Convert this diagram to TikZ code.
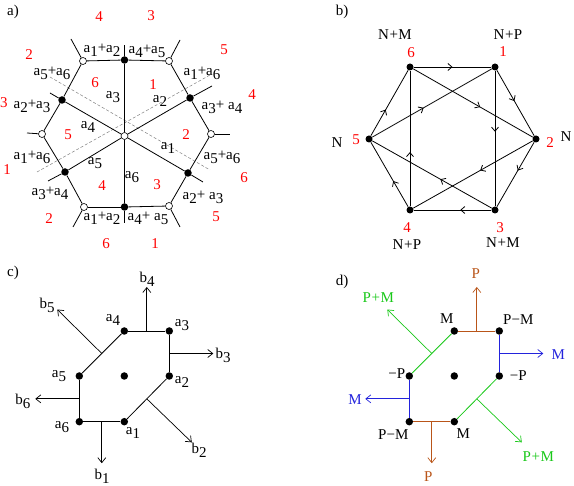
\documentclass[tikz,border=0pt]{standalone}
\usepackage{fontspec}
\setmainfont{Liberation Serif}
\usetikzlibrary{arrows.meta,decorations.markings,calc}
\definecolor{pbrown}{RGB}{185,85,25}
\definecolor{pgreen}{RGB}{25,200,25}
\definecolor{pblue}{RGB}{35,35,220}
\newcommand\subd[1]{\raisebox{-0.55ex}{#1}}
\newcommand\pl{\kern0.5pt+\kern0.5pt}
\tikzset{
 fdot/.style={circle,fill=black,inner sep=0pt,minimum size=7.5pt},
 odot/.style={circle,draw=black,fill=white,line width=0.6pt,inner sep=0pt,minimum size=7pt},
 edge/.style={line width=0.8pt},
 rlab/.style={text=red,inner sep=0pt},
 blab/.style={text=black,inner sep=0pt},
 dashln/.style={gray,line width=0.5pt,dash pattern=on 3pt off 2pt},
 marr/.style={postaction={decorate},decoration={markings,mark=at position #1 with {\arrow{Straight Barb[length=4pt,width=7pt]}}}},
 narr/.style={-{Straight Barb[length=5pt,width=8pt]},line width=0.7pt},
}
\begin{document}
\begin{tikzpicture}[x=1pt,y=-1pt,font=\fontsize{15}{17}\selectfont]
\useasboundingbox (0,0) rectangle (574,486);

% panel labels
\node[blab] (pa) at (13,12) {a)};
\node[blab] (pb) at (342,12) {b)};
\node[blab] (pc) at (13,273) {c)};
\node[blab] (pd) at (342,282) {d)};

% ---------------- panel a ----------------
\coordinate (da1) at (50,77);  \coordinate (da2) at (210,170);
\coordinate (db1) at (37,172); \coordinate (db2) at (210,75);
\draw[dashln] (da1) -- (da2);
\draw[dashln] (db1) -- (db2);

\node[odot] (O1) at (83,61) {};
\node[fdot] (F1) at (124.5,60) {};
\node[odot] (O2) at (169,61) {};
\node[fdot] (F2) at (190,98) {};
\node[odot] (O3) at (211,134) {};
\node[fdot] (F3) at (188,173) {};
\node[odot] (O4) at (169,206) {};
\node[fdot] (F4) at (124.5,207) {};
\node[odot] (O5) at (84,207) {};
\node[fdot] (F5) at (65,172) {};
\node[odot] (O6) at (42,134) {};
\node[fdot] (F6) at (62,100) {};
\node[odot] (C) at (124.5,136) {};

\coordinate (LO1) at (71,39);  \coordinate (LF1) at (124.5,45);
\coordinate (LO2) at (180,40); \coordinate (LF2) at (212,86);
\coordinate (LO3) at (230,134);\coordinate (LF3) at (203,182);
\coordinate (LO4) at (180,227);\coordinate (LF4) at (124.5,223);
\coordinate (LO5) at (73,227); \coordinate (LF5) at (48,181);
\coordinate (LO6) at (27,133); \coordinate (LF6) at (50,93);

\foreach \p/\q in {O1/F1,F1/O2,O2/F2,F2/O3,O3/F3,F3/O4,O4/F4,F4/O5,O5/F5,F5/O6,O6/F6,F6/O1,
  C/F1,C/F2,C/F3,C/F4,C/F5,C/F6}
  \draw[edge] (\p) -- (\q);
\foreach \p in {O1,F1,O2,F2,O3,F3,O4,F4,O5,F5,O6,F6}
  \draw[edge] (\p) -- (L\p);

\foreach \t/\x/\y [count=\i] in {4/99/17,3/151/16,2/29/55,5/224/50,3/4/103,4/252/95,1/7/170,6/244/178,
  2/49/219,5/216/217,6/106/244,1/155/244,6/95/83,1/153/85,5/68/135,2/186/135,4/102/186,3/157/185}
  \node[rlab] (ra\i) at (\x,\y) {\t};

\foreach \t/\x/\y [count=\i] in {a\subd1+a\subd2/102/50, a\subd4+a\subd5/147/51, a\subd5+a\subd6/52/73,
  a\subd1+a\subd6/202/73, a\subd2+a\subd3/32/106, a\subd3+ a\subd4/222/107, a\subd3/113/97,
  a\subd2/160/101, a\subd4/88/127, a\subd1/168/148, a\subd1+a\subd6/32/157, a\subd5+a\subd6/222/157,
  a\subd5/95/163, a\subd6/132/177, a\subd3+a\subd4/50/193, a\subd2+ a\subd3/203/197,
  a\subd1+a\subd2/102/218, a\subd4+ a\subd5/148/218}
  \node[blab] (ba\i) at (\x,\y) {\t};

% ---------------- panel b ----------------
\node[fdot,minimum size=7pt] (n6) at (410,67) {};
\node[fdot,minimum size=7pt] (n1) at (495,67) {};
\node[fdot,minimum size=7pt] (n2) at (536,139) {};
\node[fdot,minimum size=7pt] (n3) at (495,210) {};
\node[fdot,minimum size=7pt] (n4) at (410,210) {};
\node[fdot,minimum size=7pt] (n5) at (369,139) {};

\draw[edge,marr=0.5]  (n6) -- (n1);
\draw[edge,marr=0.47] (n1) -- (n2);
\draw[edge,marr=0.44] (n2) -- (n3);
\draw[edge,marr=0.4]  (n3) -- (n4);
\draw[edge,marr=0.4]  (n4) -- (n5);
\draw[edge,marr=0.4]  (n5) -- (n6);
\draw[edge,marr=0.56] (n6) -- (n2);
\draw[edge,marr=0.45] (n1) -- (n3);
\draw[edge,marr=0.44] (n2) -- (n4);
\draw[edge,marr=0.43] (n3) -- (n5);
\draw[edge,marr=0.4]  (n4) -- (n6);
\draw[edge,marr=0.43] (n5) -- (n1);

\node[rlab] (r6) at (411,53) {6};
\node[rlab] (r1) at (503,52) {1};
\node[rlab] (r2) at (550,143) {2};
\node[rlab] (r3) at (500,228) {3};
\node[rlab] (r4) at (407,228) {4};
\node[rlab] (r5) at (356,140) {5};
\node[blab] (q6) at (395,35) {N\pl M};
\node[blab] (q1) at (508,35) {N\pl P};
\node[blab] (q2) at (566,137) {N};
\node[blab] (q3) at (503,243) {N\pl M};
\node[blab] (q4) at (407,245) {N\pl P};
\node[blab] (q5) at (337,143) {N};

% ---------------- panel c ----------------
\node[fdot] (ca4) at (124.3,331) {};
\node[fdot] (ca3) at (169.3,331) {};
\node[fdot] (ca2) at (169.3,376) {};
\node[fdot] (ca1) at (124.3,421.7) {};
\node[fdot] (ca6) at (79.3,421.7) {};
\node[fdot] (ca5) at (79.3,376) {};
\node[fdot] (cc) at (124.3,376) {};
\draw[edge] (ca4) -- (ca3);
\draw[edge] (ca3) -- (ca2);
\draw[edge] (ca2) -- (ca1);
\draw[edge] (ca1) -- (ca6);
\draw[edge] (ca6) -- (ca5);
\draw[edge] (ca5) -- (ca4);
\coordinate (cm4) at ($(ca4)!0.5!(ca3)$);
\coordinate (cm3) at ($(ca3)!0.5!(ca2)$);
\coordinate (cm2) at ($(ca2)!0.5!(ca1)$);
\coordinate (cm1) at ($(ca1)!0.5!(ca6)$);
\coordinate (cm6) at ($(ca6)!0.5!(ca5)$);
\coordinate (cm5) at ($(ca5)!0.5!(ca4)$);
\coordinate (ct4) at ($(cm4)+(0,-44)$);
\coordinate (ct3) at ($(cm3)+(44,0)$);
\coordinate (ct2) at ($(cm2)+(45,43.5)$);
\coordinate (ct1) at ($(cm1)+(0,41.5)$);
\coordinate (ct6) at ($(cm6)+(-44,0)$);
\coordinate (ct5) at ($(cm5)+(-44.5,-44)$);
\foreach \i in {1,...,6} \draw[narr] (cm\i) -- (ct\i);

\node[blab] (cb4) at (147,279) {b\subd4};
\node[blab] (cb5) at (47,305) {b\subd5};
\node[blab] (cl4) at (113,320) {a\subd4};
\node[blab] (cl3) at (182,325) {a\subd3};
\node[blab] (cb3) at (223,355) {b\subd3};
\node[blab] (cl5) at (59,376) {a\subd5};
\node[blab] (cl2) at (182,382) {a\subd2};
\node[blab] (cb6) at (23,401) {b\subd6};
\node[blab] (cl6) at (62,427) {a\subd6};
\node[blab] (cl1) at (133,433) {a\subd1};
\node[blab] (cb2) at (199,450) {b\subd2};
\node[blab] (cb1) at (102,476) {b\subd1};

% ---------------- panel d ----------------
\node[fdot] (da4) at (454.3,331) {};
\node[fdot] (da3) at (499.3,331) {};
\node[fdot] (da2) at (499.3,376) {};
\node[fdot] (dd1) at (454.3,421.7) {};
\node[fdot] (da6) at (409.3,421.7) {};
\node[fdot] (da5) at (409.3,376) {};
\node[fdot] (dc) at (454.3,376) {};
\draw[edge,pbrown] (da4) -- (da3);
\draw[edge,pblue] (da3) -- (da2);
\draw[edge,pgreen] (da2) -- (dd1);
\draw[edge,pbrown] (dd1) -- (da6);
\draw[edge,pblue] (da6) -- (da5);
\draw[edge,pgreen] (da5) -- (da4);
\coordinate (dm4) at ($(da4)!0.5!(da3)$);
\coordinate (dm3) at ($(da3)!0.5!(da2)$);
\coordinate (dm2) at ($(da2)!0.5!(dd1)$);
\coordinate (dm1) at ($(dd1)!0.5!(da6)$);
\coordinate (dm6) at ($(da6)!0.5!(da5)$);
\coordinate (dm5) at ($(da5)!0.5!(da4)$);
\coordinate (dt4) at ($(dm4)+(0,-44)$);
\coordinate (dt3) at ($(dm3)+(44,0)$);
\coordinate (dt2) at ($(dm2)+(45,43.5)$);
\coordinate (dt1) at ($(dm1)+(0,41.5)$);
\coordinate (dt6) at ($(dm6)+(-44,0)$);
\coordinate (dt5) at ($(dm5)+(-44.5,-44)$);
\draw[narr,pbrown] (dm4) -- (dt4);
\draw[narr,pblue] (dm3) -- (dt3);
\draw[narr,pgreen] (dm2) -- (dt2);
\draw[narr,pbrown] (dm1) -- (dt1);
\draw[narr,pblue] (dm6) -- (dt6);
\draw[narr,pgreen] (dm5) -- (dt5);

\node[blab,text=pbrown] (dp4) at (475.7,274) {P};
\node[blab,text=pblue] (dp3) at (558.3,355) {M};
\node[blab,text=pgreen] (dp2) at (538.3,457) {P\pl M};
\node[blab,text=pbrown] (dp1) at (428.3,477) {P};
\node[blab,text=pblue] (dp6) at (355,400) {M};
\node[blab,text=pgreen] (dp5) at (378.3,298) {P\pl M};
\node[blab] (dl4) at (446.7,318.3) {M};
\node[blab] (dl3) at (518.3,320) {P−M};
\node[blab] (dl5) at (396.7,373.3) {−P};
\node[blab] (dl2) at (518.3,376) {−P};
\node[blab] (dl6) at (393.3,434.3) {P−M};
\node[blab] (dl1) at (463.3,433.3) {M};
\end{tikzpicture}
\end{document}
